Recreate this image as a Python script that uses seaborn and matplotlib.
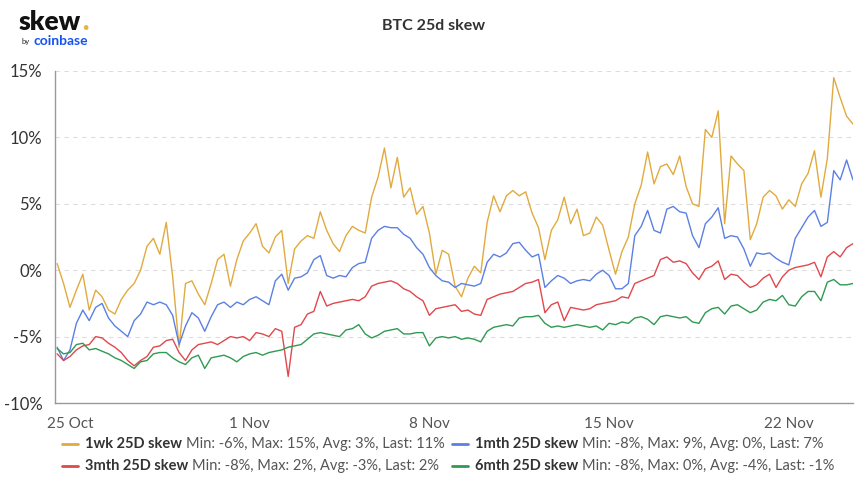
import pandas as pd
import matplotlib
matplotlib.use('Agg')
import matplotlib.pyplot as plt
from matplotlib.lines import Line2D
import seaborn as sns

# 6-hourly readings, 24 Oct 12:00 -> 24 Nov 12:00
times = pd.date_range('2021-10-24 12:00', periods=125, freq='6h')

skew_1wk = [
    0.5, -1.0, -2.8, -1.5, -0.3, -3.0, -1.5, -2.0, -3.0, -3.3,
    -2.2, -1.5, -1.0, 0.0, 1.8, 2.4, 1.2, 3.6, -0.5, -5.8,
    -1.0, -0.8, -1.8, -2.6, -1.0, 0.8, 1.2, -1.2, 0.8, 2.2,
    2.8, 3.5, 1.8, 1.3, 2.5, 3.0, -1.0, 1.6, 2.2, 2.6,
    2.4, 4.4, 3.0, 2.0, 1.4, 2.6, 3.3, 3.0, 2.8, 5.5,
    7.0, 9.2, 6.2, 8.5, 5.5, 6.2, 4.2, 4.8, 2.8, -0.3,
    1.5, 1.2, -1.2, -2.0, -0.6, 0.3, -0.2, 3.6, 5.6, 4.4,
    5.6, 6.0, 5.6, 5.9, 4.3, 3.2, 0.8, 3.0, 3.8, 5.5,
    3.5, 4.6, 2.6, 2.8, 4.0, 3.4, 1.5, -0.3, 1.4, 2.5,
    5.0, 6.4, 8.9, 6.5, 7.8, 8.0, 7.2, 8.6, 6.3, 5.0,
    4.8, 10.6, 10.0, 12.0, 3.5, 8.6, 8.0, 7.5, 2.3, 3.5,
    5.5, 6.0, 5.6, 4.6, 5.3, 4.8, 6.5, 7.3, 9.0, 5.5,
    8.4, 14.5, 13.0, 11.6, 11.0,
]
skew_1mth = [
    -5.8, -6.8, -6.0, -4.0, -3.0, -3.8, -2.8, -2.5, -3.6, -4.2,
    -4.6, -5.0, -3.8, -3.3, -2.4, -2.6, -2.4, -2.6, -3.4, -5.6,
    -4.2, -3.2, -3.6, -4.6, -3.5, -2.6, -2.4, -2.8, -2.4, -2.6,
    -2.2, -2.0, -2.3, -2.6, -0.8, -0.3, -1.5, -0.6, -0.5, -0.2,
    0.8, 1.1, -0.4, -0.6, -0.4, -0.5, 0.2, 0.5, 0.6, 2.4,
    3.0, 3.3, 3.2, 3.2, 2.7, 2.4, 1.7, 1.2, 0.2, -0.4,
    -0.8, -0.9, -1.3, -1.0, -1.1, -1.2, -1.0, 0.6, 1.2, 1.0,
    1.3, 2.0, 2.1, 1.5, 1.0, 1.2, -1.3, -0.8, -0.4, -0.6,
    -1.0, -0.8, -0.7, -0.8, -0.3, 0.0, -0.4, -1.4, -1.4, -1.0,
    2.6, 3.3, 4.5, 3.0, 2.8, 4.6, 4.8, 4.4, 4.3, 2.6,
    1.7, 3.5, 4.0, 4.7, 2.4, 2.6, 2.5, 1.6, 0.3, 1.3,
    1.2, 1.3, 0.9, 0.6, 0.4, 2.4, 3.2, 4.0, 4.5, 3.3,
    3.6, 7.5, 6.8, 8.3, 6.8,
]
skew_3mth = [
    -6.3, -6.8, -6.5, -6.0, -5.7, -5.6, -5.0, -5.1, -5.5, -5.8,
    -6.2, -6.8, -7.2, -6.8, -6.5, -5.8, -5.7, -5.3, -5.2, -6.2,
    -6.8, -6.0, -5.6, -5.5, -5.4, -5.6, -5.3, -5.0, -5.1, -5.0,
    -5.3, -4.7, -4.8, -5.0, -4.4, -4.6, -8.0, -4.3, -4.1, -3.3,
    -3.1, -1.6, -2.7, -2.5, -2.4, -2.3, -2.2, -2.3, -2.0, -1.2,
    -1.0, -0.9, -0.8, -1.0, -1.4, -1.6, -2.0, -2.3, -3.4, -2.9,
    -2.8, -2.7, -2.6, -3.1, -3.0, -3.3, -3.4, -2.2, -2.0, -1.8,
    -1.7, -1.6, -1.3, -1.0, -0.9, -0.7, -3.2, -2.6, -2.4, -3.8,
    -2.8, -2.9, -3.0, -2.9, -2.6, -2.5, -2.4, -2.3, -2.0, -2.1,
    -1.0, -0.8, -0.6, -0.4, 0.8, 1.0, 0.6, 0.7, 0.5, -0.2,
    -0.7, 0.1, 0.3, 0.7, -0.7, -0.3, -0.4, -0.9, -1.3, -1.1,
    -0.6, -0.3, -1.3, -0.5, 0.0, 0.2, 0.3, 0.4, 0.6, -0.5,
    1.0, 1.4, 1.0, 1.7, 2.0,
]
skew_6mth = [
    -5.9, -6.3, -6.2, -5.6, -5.5, -6.0, -5.9, -6.1, -6.3, -6.6,
    -6.8, -7.1, -7.4, -6.9, -6.8, -6.3, -6.2, -6.2, -6.6, -6.9,
    -7.1, -6.6, -6.4, -7.4, -6.6, -6.5, -6.4, -6.6, -6.9, -6.5,
    -6.3, -6.2, -6.4, -6.2, -6.1, -6.0, -5.8, -5.7, -5.6, -5.2,
    -4.8, -4.7, -4.8, -4.9, -5.0, -4.5, -4.4, -4.1, -4.8, -5.1,
    -4.9, -4.6, -4.5, -4.4, -4.8, -4.8, -4.7, -4.7, -5.7, -5.1,
    -5.0, -5.1, -5.0, -5.2, -5.1, -5.2, -5.4, -4.6, -4.3, -4.2,
    -4.1, -4.2, -3.6, -3.5, -3.5, -3.4, -4.0, -4.3, -4.2, -4.3,
    -4.2, -4.1, -4.2, -4.3, -4.2, -4.5, -4.0, -4.1, -3.9, -4.0,
    -3.6, -3.5, -3.7, -4.1, -3.5, -3.4, -3.5, -3.6, -3.5, -3.9,
    -4.0, -3.2, -2.9, -2.8, -3.3, -2.7, -2.6, -2.9, -3.2, -3.0,
    -2.4, -2.2, -2.3, -1.9, -2.6, -2.7, -2.0, -1.6, -1.6, -2.3,
    -0.9, -0.7, -1.1, -1.1, -1.0,
]

series_names = ['1wk 25D skew', '1mth 25D skew', '3mth 25D skew', '6mth 25D skew']
series_stats = [
    'Min: -6%, Max: 15%, Avg: 3%, Last: 11%',
    'Min: -8%, Max: 9%, Avg: 0%, Last: 7%',
    'Min: -8%, Max: 2%, Avg: -3%, Last: 2%',
    'Min: -8%, Max: 0%, Avg: -4%, Last: -1%',
]
colors = ['#e1aa3f', '#5b80e3', '#e0484c', '#2f9a52']

y_ticks = [-10, -5, 0, 5, 10, 15]
x_ticks = ['2021-10-25', '2021-11-01', '2021-11-08', '2021-11-15', '2021-11-22']
x_tick_labels = ['25 Oct', '1 Nov', '8 Nov', '15 Nov', '22 Nov']

frames = []
for name, vals in zip(series_names, [skew_1wk, skew_1mth, skew_3mth, skew_6mth]):
    frames.append(pd.DataFrame({'time': times, 'value': vals, 'series': name}))
df = pd.concat(frames, ignore_index=True)

sns.set_style('white')
plt.rcParams['font.family'] = ['Lato', 'DejaVu Sans']

W, H = 864, 484
fig = plt.figure(figsize=(W / 100, H / 100), dpi=100)
ax = fig.add_axes([55 / W, 1 - 403 / H, 798 / W, 332 / H])

sns.lineplot(data=df, x='time', y='value', hue='series', hue_order=series_names,
             palette=colors, linewidth=1.0, legend=False, ax=ax)

ax.set_ylim(-10, 15)
ax.set_yticks(y_ticks)
ax.set_yticklabels([f'{v}%' for v in y_ticks], fontsize=12, color='#333333')
ax.set_xlim(times[0] - pd.Timedelta(hours=2), times[-1])
ax.set_xticks(pd.to_datetime(x_ticks))
ax.set_xticklabels(x_tick_labels, fontsize=11, color='#555555')
ax.set_xlabel('')
ax.set_ylabel('')
ax.grid(axis='y', color='#dddddd', linestyle=(0, (4, 4)), linewidth=0.8)
ax.grid(axis='x', visible=False)
sns.despine(ax=ax, top=True, right=True)
for side in ['left', 'bottom']:
    ax.spines[side].set_color('#999999')
    ax.spines[side].set_linewidth(1.0)
ax.tick_params(axis='both', which='both', length=4, color='#999999', direction='out')
ax.tick_params(axis='x', pad=6)
ax.tick_params(axis='y', pad=5)

renderer = fig.canvas.get_renderer()

# title and logo
fig.text(434 / W, 1 - 26 / H, 'BTC 25d skew', ha='center', va='center',
         fontsize=11.5, fontweight='bold', color='#333333')
logo = fig.text(19 / W, 1 - 30 / H, 'skew', ha='left', va='baseline', fontsize=19,
                fontweight='heavy', color='#111111')
lb = logo.get_window_extent(renderer)
fig.text((lb.x1 + 1) / W, 1 - 30 / H, '.', ha='left', va='baseline', fontsize=19,
         fontweight='heavy', color='#e6b43c')
fig.text(22 / W, 1 - 44 / H, 'by', ha='left', va='baseline', fontsize=5.5, color='#222222')
fig.text(33 / W, 1 - 45 / H, 'coinbase', ha='left', va='baseline', fontsize=10,
         fontweight='bold', color='#1652f0')

# legend drawn by hand: bold name followed by grey stats
legend_pos = [(62, 444), (452, 444), (62, 466), (452, 466)]
for (px, py), color, name, stats in zip(legend_pos, colors, series_names, series_stats):
    yy = 1 - py / H
    fig.add_artist(Line2D([px / W, (px + 16) / W], [yy, yy], transform=fig.transFigure,
                          color=color, linewidth=2))
    t = fig.text((px + 23) / W, yy, name, ha='left', va='center', fontsize=10.5,
                 fontweight='bold', color='#333333')
    bb = t.get_window_extent(renderer)
    fig.text((bb.x1 + 4) / W, yy, stats, ha='left', va='center', fontsize=10.5,
             color='#555555')

fig.savefig('out.png', dpi=100)
